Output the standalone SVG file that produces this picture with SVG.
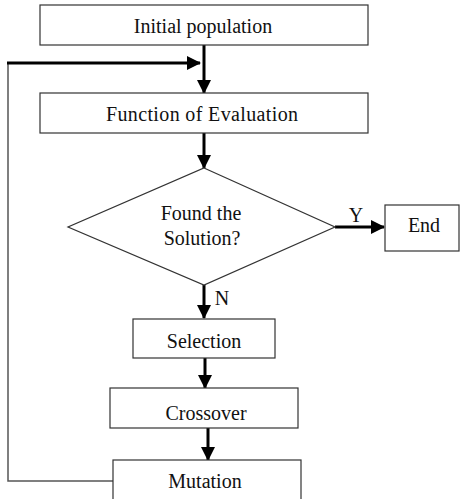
<svg xmlns="http://www.w3.org/2000/svg" width="460" height="499" viewBox="0 0 460 499">
<defs>
<style>
.box{fill:#fff;stroke:#333;stroke-width:1.2}
.t{font-family:'Liberation Serif','DejaVu Serif',serif;font-size:20px;fill:#111;text-anchor:middle}
.arr{stroke:#000;stroke-width:3;fill:none}
.fb{stroke:#555;stroke-width:1.5;fill:none}
</style>
<marker id="ah" viewBox="0 0 14 14" refX="13" refY="7" markerWidth="14" markerHeight="14" markerUnits="userSpaceOnUse" orient="auto">
<path d="M0,0 L14,7 L0,14 Z" fill="#000"/>
</marker>
</defs>
<rect width="460" height="499" fill="#fff"/>
<g id="connectors">
<line class="arr" x1="204" y1="45" x2="204" y2="93" marker-end="url(#ah)"/>
<polyline class="fb" points="113,481 8,481 8,63"/>
<line class="arr" x1="7" y1="63" x2="200" y2="63" marker-end="url(#ah)"/>
<line class="arr" x1="204" y1="133" x2="204" y2="168" marker-end="url(#ah)"/>
<line class="arr" x1="335" y1="227" x2="384" y2="227" marker-end="url(#ah)"/>
<text class="t" x="356" y="222">Y</text>
<line class="arr" x1="204" y1="285" x2="204" y2="318" marker-end="url(#ah)"/>
<text class="t" x="222" y="305">N</text>
<line class="arr" x1="205" y1="358" x2="205" y2="388" marker-end="url(#ah)"/>
<line class="arr" x1="208" y1="428" x2="208" y2="460" marker-end="url(#ah)"/>
</g>
<g id="initial">
<rect class="box" x="40" y="5" width="328" height="40"/>
<text class="t" x="203" y="33">Initial population</text>
</g>
<g id="evaluation">
<rect class="box" x="40" y="93" width="328" height="40"/>
<text class="t" x="202" y="121" textLength="192">Function of Evaluation</text>
</g>
<g id="decision">
<polygon class="box" points="204,168 335,227 204,285 68,227"/>
<text class="t" x="201" y="220">Found the</text>
<text class="t" x="202" y="245">Solution?</text>
</g>
<g id="end">
<rect class="box" x="385" y="205" width="74" height="46"/>
<text class="t" x="424" y="232">End</text>
</g>
<g id="selection">
<rect class="box" x="133" y="319" width="142" height="39"/>
<text class="t" x="204" y="348">Selection</text>
</g>
<g id="crossover">
<rect class="box" x="110" y="388" width="188" height="40"/>
<text class="t" x="206" y="420">Crossover</text>
</g>
<g id="mutation">
<rect class="box" x="113" y="460" width="188" height="45"/>
<text class="t" x="205" y="488">Mutation</text>
</g>
</svg>
